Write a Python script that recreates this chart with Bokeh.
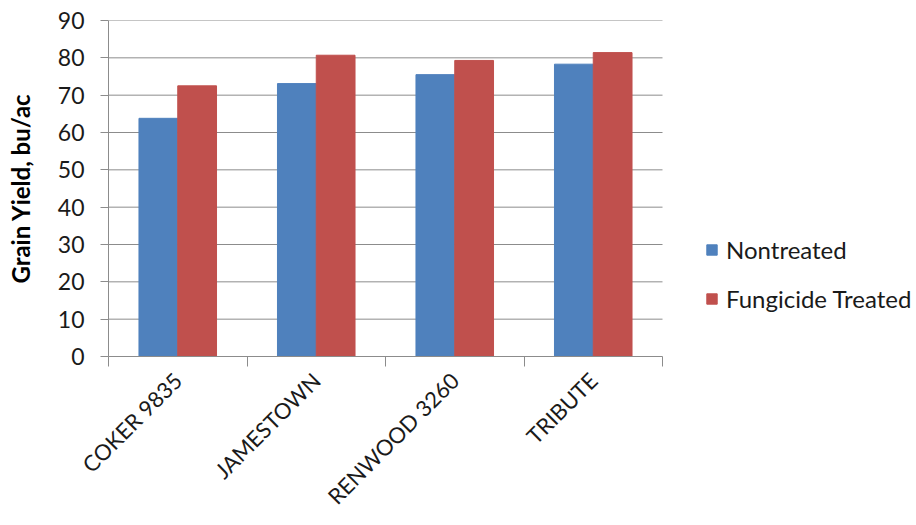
import math
from bokeh.plotting import figure
from bokeh.models import ColumnDataSource, Range1d, FixedTicker, Legend, LegendItem
from bokeh.transform import dodge
from bokeh.embed import file_html
from bokeh.resources import INLINE

varieties = ["COKER 9835", "JAMESTOWN", "RENWOOD 3260", "TRIBUTE"]
nontreated = [63.8, 73.1, 75.5, 78.3]
fungicide = [72.5, 80.7, 79.3, 81.4]
series_names = ["Nontreated", "Fungicide Treated"]
y_ticks = [0, 10, 20, 30, 40, 50, 60, 70, 80, 90]

FONT = "Lato"
BLUE = "#4F81BD"
RED = "#C0504D"
GRID = "#8C8C8C"
TEXT = "#1a1a1a"

W, H = 916, 525
LEFT, TOP, BOTTOM = 108, 20, 169
PLOT_RIGHT_PX = 662  # where the category area ends
n = len(varieties)
# frame spans to the right edge so the legend is not clipped; the data area ends at PLOT_RIGHT_PX
x_end = n * (W - LEFT) / (PLOT_RIGHT_PX - LEFT)

xs = [i + 0.5 for i in range(n)]
src = ColumnDataSource(dict(x=xs, a=nontreated, b=fungicide))
grid_src = ColumnDataSource(dict(y=y_ticks[1:], x0=[0] * (len(y_ticks) - 1),
                                 x1=[n] * (len(y_ticks) - 1)))

p = figure(width=W, height=H, output_backend="svg", toolbar_location=None,
           x_range=Range1d(0, x_end), y_range=Range1d(0, 90),
           min_border_left=LEFT, min_border_right=0, min_border_top=TOP,
           min_border_bottom=BOTTOM)
p.outline_line_color = None
p.background_fill_color = "white"
p.border_fill_color = "white"

p.segment(x0="x0", x1="x1", y0="y", y1="y", source=grid_src,
          line_color=GRID, line_width=1)

r1 = p.vbar(x=dodge("x", -0.14), top="a", width=0.28, source=src,
            fill_color=BLUE, line_color=BLUE)
r2 = p.vbar(x=dodge("x", 0.14), top="b", width=0.28, source=src,
            fill_color=RED, line_color=RED)

# x axis
xa = p.xaxis[0]
xa.bounds = (0, n)
xa.ticker = FixedTicker(ticks=xs, minor_ticks=list(range(n + 1)))
xa.major_label_overrides = {x: v for x, v in zip(xs, varieties)}
xa.major_label_orientation = math.pi / 4
xa.major_tick_line_color = None
xa.minor_tick_line_color = GRID
xa.minor_tick_in = 0
xa.minor_tick_out = 10
xa.axis_line_color = GRID
xa.major_label_text_font = FONT
xa.major_label_text_font_size = "22px"
xa.major_label_text_color = TEXT
xa.major_label_standoff = 10

# y axis
ya = p.yaxis[0]
ya.ticker = FixedTicker(ticks=y_ticks)
ya.minor_tick_line_color = None
ya.major_tick_line_color = GRID
ya.major_tick_in = 0
ya.major_tick_out = 8
ya.axis_line_color = GRID
ya.major_label_text_font = FONT
ya.major_label_text_font_size = "23px"
ya.major_label_text_color = TEXT
ya.major_label_standoff = 16
ya.axis_label = "Grain Yield, bu/ac"
ya.axis_label_text_font = FONT
ya.axis_label_text_font_size = "24px"
ya.axis_label_text_font_style = "bold"
ya.axis_label_text_color = "#000000"
ya.axis_label_standoff = 20

p.xgrid.grid_line_color = None
p.ygrid.grid_line_color = None

legend = Legend(items=[LegendItem(label=series_names[0], renderers=[r1]),
                       LegendItem(label=series_names[1], renderers=[r2])],
                location=(597, 43), orientation="vertical")
legend.border_line_color = None
legend.background_fill_alpha = 0
legend.padding = 0
legend.margin = 0
legend.glyph_width = 13
legend.glyph_height = 13
legend.label_standoff = 8
legend.label_text_font = FONT
legend.label_text_font_size = "24px"
legend.label_text_color = TEXT
legend.label_height = 24
legend.spacing = 20
p.add_layout(legend, "center")

open("out.html", "w").write(file_html(p, INLINE))
